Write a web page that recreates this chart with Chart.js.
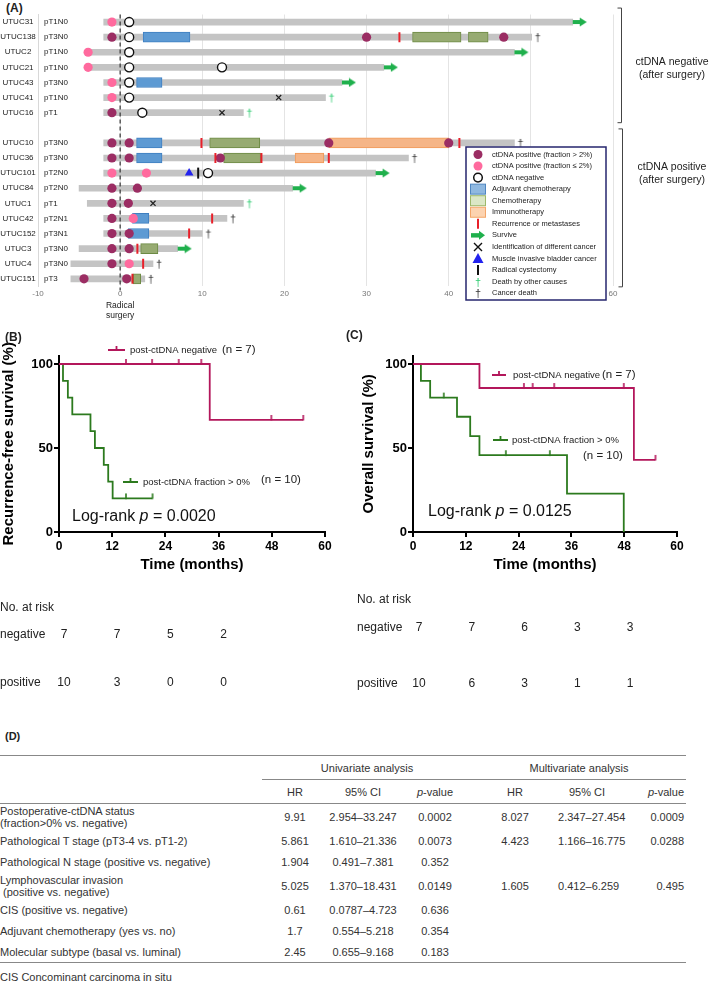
<!DOCTYPE html>
<html lang="en">
<head>
<meta charset="utf-8">
<title>Postoperative ctDNA and outcome</title>
<script src="https://cdn.jsdelivr.net/npm/chart.js@4.4.1/dist/chart.umd.min.js"></script>
<style>
  body { margin: 0; background: #fff; }
  #page { position: relative; width: 709px; height: 993px; overflow: hidden; font-family: "Liberation Sans", Arial, sans-serif; color: #222; }
  #page canvas { position: absolute; }
  .tag { position: absolute; font-size: 12px; font-weight: bold; line-height: 14px; }
  #cox { position: absolute; left: 0; top: 755px; width: 686px; border-collapse: collapse; table-layout: fixed; font-size: 11px; color: #333; }
  #cox td { padding: 0; white-space: nowrap; text-align: center; vertical-align: middle; line-height: 12px; }
  #cox td.name { text-align: left; }
  #cox td.last { text-align: right; padding-right: 2px; }
  #cox tr.head1 td { border-top: 1.5px solid #888; height: 23px; }
  #cox tr.head1 td.group { border-bottom: 1px solid #888; }
  #cox tr.head2 td { height: 23px; border-bottom: 1.5px solid #888; }
  #cox tr.end td { border-bottom: 1.5px solid #888; }
  #note { position: absolute; left: 0; top: 971px; font-size: 11px; line-height: 13px; color: #333; }
</style>
</head>
<body>
<div id="page">
  <div class="tag" style="left:6px; top:1px;">(A)</div>
  <canvas id="swimmer" width="709" height="325" style="left:0; top:0;"></canvas>
  <canvas id="rfs" width="350" height="380" style="left:0; top:320px;"></canvas>
  <canvas id="os" width="359" height="380" style="left:350px; top:320px;"></canvas>
  <div class="tag" style="left:5px; top:330px;">(B)</div>
  <div class="tag" style="left:346px; top:328px;">(C)</div>
  <div class="tag" style="left:5px; top:729px; font-size:11px;">(D)</div>
  <table id="cox"></table>
  <div id="note">CIS Concominant carcinoma in situ</div>
</div>
<script>
// ---- (A) swimmer plot data, months from radical surgery ----
const patients = ['UTUC31', 'UTUC138', 'UTUC2', 'UTUC21', 'UTUC43', 'UTUC41', 'UTUC16', '',
  'UTUC10', 'UTUC36', 'UTUC101', 'UTUC84', 'UTUC1', 'UTUC42', 'UTUC152', 'UTUC3', 'UTUC4', 'UTUC151'];
const stages = ['pT1N0', 'pT3N0', 'pT1N0', 'pT1N0', 'pT3N0', 'pT1N0', 'pT1', '',
  'pT3N0', 'pT3N0', 'pT2N0', 'pT2N0', 'pT1', 'pT2N1', 'pT3N1', 'pT3N0', 'pT3N0', 'pT3'];
const followStart = [-2, -2, -3.9, -3.9, -2, -2, -2, null, -2, -2, -2, -5, -4, -2, -2, -5, -6, -6];
const followEnd = [55.1, 50.1, 48, 32.1, 27, 25, 15, null, 48, 35.1, 31.1, 21, 15, 13, 10, 7, 4, 3];
const outcome = ['alive', 'cancer', 'alive', 'alive', 'alive', 'other', 'other', '',
  'cancer', 'cancer', 'alive', 'alive', 'other', 'cancer', 'cancer', 'alive', 'cancer', 'cancer'];

const ctdnaHigh = [['UTUC138', -1], ['UTUC138', 30], ['UTUC138', 46.7], ['UTUC16', -1],
  ['UTUC10', -1], ['UTUC10', 1.1], ['UTUC10', 25.4], ['UTUC10', 40], ['UTUC36', -1], ['UTUC36', 1.1], ['UTUC36', 12.2],
  ['UTUC84', -1], ['UTUC84', 2.1], ['UTUC1', -1], ['UTUC1', 1], ['UTUC42', -1], ['UTUC152', -1], ['UTUC152', 1.1],
  ['UTUC3', -1], ['UTUC3', 1.1], ['UTUC4', -1], ['UTUC151', -4.4], ['UTUC151', 0.8]];
const ctdnaLow = [['UTUC31', -1], ['UTUC2', -3.9], ['UTUC21', -3.9], ['UTUC43', -1], ['UTUC41', -1],
  ['UTUC101', -1], ['UTUC101', 3.2], ['UTUC42', 1.6], ['UTUC4', 1.1]];
const ctdnaNeg = [['UTUC31', 1.1], ['UTUC138', 1.1], ['UTUC2', 1.1], ['UTUC21', 1.1], ['UTUC21', 12.4],
  ['UTUC43', 1.1], ['UTUC41', 1.1], ['UTUC16', 2.7], ['UTUC101', 10.7]];
const adjuvantChemo = [['UTUC138', 2.8, 8.5], ['UTUC43', 2, 5.1], ['UTUC10', 2, 5.1], ['UTUC36', 2, 5.1],
  ['UTUC42', 1.5, 3.5], ['UTUC152', 1, 3.5]];
const chemo = [['UTUC138', 35.6, 41.5], ['UTUC138', 42.4, 44.8], ['UTUC10', 10.9, 17], ['UTUC36', 12.6, 17.1],
  ['UTUC3', 2.5, 4.6], ['UTUC151', 1.6, 2.5]];
const immuno = [['UTUC10', 25.4, 40], ['UTUC36', 21.3, 24.8]];
const recurrence = [['UTUC138', 34], ['UTUC10', 9.9], ['UTUC10', 41.3], ['UTUC36', 11.6], ['UTUC36', 17.2],
  ['UTUC36', 25.4], ['UTUC42', 11.2], ['UTUC152', 8.4], ['UTUC3', 2.1], ['UTUC4', 2.8], ['UTUC151', 1.5]];
const otherCancer = [['UTUC41', 19.3], ['UTUC16', 12.4], ['UTUC1', 4]];
const bladderMI = [['UTUC101', 8.4]];
const cystectomy = [['UTUC101', 9.5]];

// ---- (B) recurrence-free survival, (C) overall survival ----
const rfsNegTime = [0, 34, 55.1];
const rfsNegSurv = [100, 66.7, 66.7];
const rfsNegCensor = [15.1, 21, 27, 32.1, 47.9, 55.1];
const rfsPosTime = [0, 0.9, 2, 3, 7.1, 8.1, 10.1, 11.1, 12.1, 21.1];
const rfsPosSurv = [100, 90, 80, 70, 60, 50, 40, 30, 20, 20];
const rfsPosCensor = [15.1, 21.1];

const osNegTime = [0, 15.1, 50.2, 55.1];
const osNegSurv = [100, 85.7, 42.9, 42.9];
const osNegCensor = [25.2, 27.2, 32.1, 47.9, 55.1];
const osPosTime = [0, 1.8, 3.9, 10, 13, 15.1, 35, 47.9];
const osPosSurv = [100, 90, 80, 68.6, 57.1, 45.7, 22.9, 0];
const osPosCensor = [7, 21.1, 31.1];

const riskTimes = [0, 12, 24, 36, 48];
const rfsRiskNeg = [7, 7, 5, 2];
const rfsRiskPos = [10, 3, 0, 0];
const osRiskNeg = [7, 7, 6, 3, 3];
const osRiskPos = [10, 6, 3, 1, 1];

// ---- (D) Cox regression ----
const coxFactors = [['Postoperative-ctDNA status', '(fraction>0% vs. negative)'],
  ['Pathological T stage (pT3-4 vs. pT1-2)'], ['Pathological N stage (positive vs. negative)'],
  ['Lymphovascular invasion', '\u00a0(positive vs. negative)'], ['CIS (positive vs. negative)'],
  ['Adjuvant chemotherapy (yes vs. no)'], ['Molecular subtype (basal vs. luminal)']];
const uniHR = ['9.91', '5.861', '1.904', '5.025', '0.61', '1.7', '2.45'];
const uniCI = ['2.954–33.247', '1.610–21.336', '0.491–7.381', '1.370–18.431', '0.0787–4.723', '0.554–5.218', '0.655–9.168'];
const uniP = ['0.0002', '0.0073', '0.352', '0.0149', '0.636', '0.354', '0.183'];
const multiHR = ['8.027', '4.423', '', '1.605', '', '', ''];
const multiCI = ['2.347–27.454', '1.166–16.775', '', '0.412–6.259', '', '', ''];
const multiP = ['0.0009', '0.0288', '', '0.495', '', '', ''];

const FONT = '"Liberation Sans", Arial, sans-serif';
const PURPLE = '#9b2d63', PINK = '#ff6a9e', RED_TICK = '#e8202a', ARROW = '#1fb04c';
const KM_RED = '#b3175b', KM_GREEN = '#2c7a1e';

// small canvases used as point styles
function arrowImage() {
  const c = document.createElement('canvas');
  c.width = 30; c.height = 10;
  const g = c.getContext('2d');
  g.fillStyle = ARROW;
  g.fillRect(15, 3, 8, 4);
  g.beginPath(); g.moveTo(22, 0.5); g.lineTo(29, 5); g.lineTo(22, 9.5); g.closePath(); g.fill();
  return c;
}
function daggerImage(color) {
  const c = document.createElement('canvas');
  c.width = 24; c.height = 16;
  const g = c.getContext('2d');
  g.fillStyle = color; g.font = '11px ' + FONT;
  g.textAlign = 'center'; g.textBaseline = 'middle';
  g.fillText('†', 18, 8.5);
  return c;
}
function censorImage(color) {
  const c = document.createElement('canvas');
  c.width = 4; c.height = 12;
  const g = c.getContext('2d');
  g.fillStyle = color;
  g.fillRect(1.2, 1, 1.6, 5.5);
  return c;
}

const marks = (list, style) => Object.assign({
  type: 'scatter', order: 1,
  data: list.map(([id, t]) => ({ x: t, y: id }))
}, style);
const boxes = (list, fill, edge) => ({
  type: 'bar', order: 5, grouped: false, barThickness: 10,
  backgroundColor: fill, borderColor: edge, borderWidth: 1, borderSkipped: false,
  data: list.map(([id, s, e]) => ({ x: [s, e], y: id }))
});
const ends = (kind) => patients.map((id, i) => outcome[i] === kind ? { x: followEnd[i], y: id } : null).filter(Boolean);

const legendItems = [
  ['dot', PURPLE, 'ctDNA positive (fraction > 2%)'],
  ['dot', PINK, 'ctDNA positive (fraction \u2264 2%)'],
  ['ring', '#111', 'ctDNA negative'],
  ['box', '#8fb8e0', 'Adjuvant chemotherapy', '#4f86c0'],
  ['box', '#dbe7c6', 'Chemotherapy', '#9db86a'],
  ['box', '#fcd3b0', 'Immunotherapy', '#f3a66a'],
  ['tick', RED_TICK, 'Recurrence or metastases'],
  ['arrow', ARROW, 'Survive'],
  ['cross', '#111', 'Identification of different cancer'],
  ['tri', '#2222ee', 'Muscle invasive bladder cancer'],
  ['tick', '#111', 'Radical cystectomy'],
  ['dagger', '#2ecc71', 'Death by other causes'],
  ['dagger', '#333', 'Cancer death']
];

function drawLegendSymbol(ctx, kind, color, x, y, edge) {
  ctx.fillStyle = color; ctx.strokeStyle = color;
  if (kind === 'dot') { ctx.beginPath(); ctx.arc(x, y, 4.5, 0, Math.PI * 2); ctx.fill(); }
  if (kind === 'ring') { ctx.lineWidth = 1.5; ctx.beginPath(); ctx.arc(x, y, 4.3, 0, Math.PI * 2); ctx.stroke(); }
  if (kind === 'box') { ctx.fillRect(x - 7.5, y - 5, 15, 10); ctx.strokeStyle = edge; ctx.lineWidth = 1; ctx.strokeRect(x - 7.5, y - 5, 15, 10); }
  if (kind === 'tick') { ctx.lineWidth = 2; ctx.beginPath(); ctx.moveTo(x, y - 5); ctx.lineTo(x, y + 5); ctx.stroke(); }
  if (kind === 'arrow') {
    ctx.fillRect(x - 7, y - 2.2, 9, 4.4);
    ctx.beginPath(); ctx.moveTo(x + 1, y - 4.5); ctx.lineTo(x + 7, y); ctx.lineTo(x + 1, y + 4.5); ctx.closePath(); ctx.fill();
  }
  if (kind === 'cross') {
    ctx.lineWidth = 1.4; ctx.beginPath();
    ctx.moveTo(x - 4, y - 4); ctx.lineTo(x + 4, y + 4); ctx.moveTo(x + 4, y - 4); ctx.lineTo(x - 4, y + 4); ctx.stroke();
  }
  if (kind === 'tri') { ctx.beginPath(); ctx.moveTo(x, y - 5.5); ctx.lineTo(x + 5.5, y + 4.5); ctx.lineTo(x - 5.5, y + 4.5); ctx.closePath(); ctx.fill(); }
  if (kind === 'dagger') { ctx.font = '11px ' + FONT; ctx.textAlign = 'center'; ctx.textBaseline = 'middle'; ctx.fillText('†', x, y + 1); }
}

const swimmerDecor = {
  id: 'swimmerDecor',
  afterDatasetsDraw(chart) {
    const { ctx, chartArea, scales: { x } } = chart;
    const x0 = x.getPixelForValue(0);
    ctx.save();
    ctx.setLineDash([4, 3]);
    ctx.strokeStyle = '#333'; ctx.lineWidth = 1.2;
    ctx.beginPath(); ctx.moveTo(x0, chartArea.top); ctx.lineTo(x0, chartArea.bottom + 4); ctx.stroke();
    ctx.restore();
  },
  afterDraw(chart) {
    const { ctx, scales: { x, y } } = chart;
    ctx.save();
    ctx.fillStyle = '#222'; ctx.textBaseline = 'middle';
    ctx.font = '8px ' + FONT;
    patients.forEach((id, i) => {
      const py = y.getPixelForValue(i);
      ctx.textAlign = 'center'; ctx.fillText(id, 18, py);
      ctx.textAlign = 'left'; ctx.fillText(stages[i], 44, py);
    });
    // radical surgery caption under 0
    const x0 = x.getPixelForValue(0);
    ctx.textAlign = 'center'; ctx.font = '8.5px ' + FONT;
    ctx.fillText('Radical', x0, 306);
    ctx.fillText('surgery', x0, 316);
    // legend box
    ctx.fillStyle = '#fff';
    ctx.fillRect(466, 147, 140, 153);
    ctx.strokeStyle = '#26266e'; ctx.lineWidth = 1.5;
    ctx.strokeRect(466, 147, 140, 153);
    legendItems.forEach(([kind, color, text, edge], k) => {
      const ly = 154.5 + k * 11.55;
      ctx.save();
      drawLegendSymbol(ctx, kind, color, 478, ly, edge);
      ctx.restore();
      ctx.fillStyle = '#222'; ctx.font = '7.5px ' + FONT;
      ctx.textAlign = 'left'; ctx.textBaseline = 'middle';
      ctx.fillText(text, 492, ly);
    });
    // brackets for ctDNA status after surgery
    ctx.strokeStyle = '#444'; ctx.lineWidth = 1;
    const bracket = (top, bottom, bx) => {
      ctx.beginPath(); ctx.moveTo(bx - 4, top); ctx.lineTo(bx, top); ctx.lineTo(bx, bottom); ctx.lineTo(bx - 4, bottom); ctx.stroke();
    };
    bracket(y.getPixelForValue(0) - 14, y.getPixelForValue(6) + 10, 621.5);
    bracket(y.getPixelForValue(8) - 14, y.getPixelForValue(17) + 8, 622.5);
    ctx.fillStyle = '#222'; ctx.font = '10.5px ' + FONT; ctx.textAlign = 'center';
    ctx.fillText('ctDNA negative', 672, 62);
    ctx.fillText('(after surgery)', 672, 75);
    ctx.fillText('ctDNA positive', 672, 167);
    ctx.fillText('(after surgery)', 672, 180);
    ctx.restore();
  }
};

new Chart('swimmer', {
  type: 'bar',
  data: {
    labels: patients,
    datasets: [
      {
        type: 'bar', order: 10, grouped: false, barThickness: 6,
        backgroundColor: '#c4c4c4', borderWidth: 0,
        data: followStart.map((s, i) => (s === null ? null : [s, followEnd[i]]))
      },
      boxes(adjuvantChemo, '#5d9ad3', '#3f7fc0'),
      boxes(chemo, '#97ab72', '#6d8a44'),
      boxes(immuno, '#f5b587', '#f09a58'),
      marks(recurrence, { pointStyle: 'line', pointRotation: 90, pointRadius: 5, pointBorderColor: RED_TICK, pointBorderWidth: 2 }),
      marks(cystectomy, { pointStyle: 'line', pointRotation: 90, pointRadius: 5.5, pointBorderColor: '#111', pointBorderWidth: 2 }),
      marks(otherCancer, { pointStyle: 'crossRot', pointRadius: 3.6, pointBorderColor: '#222', pointBorderWidth: 1.3 }),
      marks(bladderMI, { pointStyle: 'triangle', pointRadius: 5, pointBackgroundColor: '#2222ee', pointBorderWidth: 0 }),
      marks(ctdnaNeg, { pointStyle: 'circle', pointRadius: 4.5, pointBackgroundColor: '#fff', pointBorderColor: '#111', pointBorderWidth: 1.4 }),
      marks(ctdnaLow, { pointStyle: 'circle', pointRadius: 4.6, pointBackgroundColor: PINK, pointBorderWidth: 0 }),
      marks(ctdnaHigh, { pointStyle: 'circle', pointRadius: 4.6, pointBackgroundColor: PURPLE, pointBorderWidth: 0 }),
      { type: 'scatter', order: 1, data: ends('alive'), pointStyle: arrowImage(), pointRadius: 5 },
      { type: 'scatter', order: 1, data: ends('cancer'), pointStyle: daggerImage('#333'), pointRadius: 5 },
      { type: 'scatter', order: 1, data: ends('other'), pointStyle: daggerImage('#2ecc71'), pointRadius: 5 }
    ]
  },
  options: {
    responsive: false,
    animation: false,
    indexAxis: 'y',
    layout: { padding: { left: 38, right: 96, top: 14.5, bottom: 23 } },
    plugins: { legend: { display: false }, tooltip: { enabled: false } },
    scales: {
      x: {
        type: 'linear', min: -10, max: 60,
        ticks: { stepSize: 10, color: '#777', font: { size: 8, family: FONT }, padding: 3 },
        grid: { color: '#e4e4e4', drawTicks: false },
        border: { display: false }
      },
      y: {
        type: 'category', offset: true,
        ticks: { display: false },
        grid: { display: false, drawTicks: false },
        border: { display: true, color: '#d8d8d8' }
      }
    }
  },
  plugins: [swimmerDecor]
});

// ---- Kaplan-Meier panels ----
const curve = (times, surv) => times.map((t, i) => ({ x: t, y: surv[i] }));
const survAt = (times, surv, t) => {
  let s = surv[0];
  times.forEach((ti, i) => { if (ti <= t) s = surv[i]; });
  return s;
};
const censored = (times, surv, cens) => cens.map(t => ({ x: t, y: survAt(times, surv, t) }));

const kmDecor = {
  id: 'kmDecor',
  afterDraw(chart, args, o) {
    const { ctx, scales: { x } } = chart;
    ctx.save();
    ctx.textBaseline = 'middle'; ctx.textAlign = 'left';
    o.legend.forEach(item => {
      ctx.strokeStyle = item.color; ctx.lineWidth = 1.8;
      ctx.beginPath();
      ctx.moveTo(item.x, item.y); ctx.lineTo(item.x + item.w, item.y);
      ctx.moveTo(item.x + item.w / 2, item.y); ctx.lineTo(item.x + item.w / 2, item.y - 4);
      ctx.stroke();
      ctx.fillStyle = '#222';
      ctx.font = '9.5px ' + FONT; ctx.fillText(item.text, item.tx, item.y);
      ctx.font = '11.5px ' + FONT; ctx.fillText(item.n, item.nx, item.ny);
    });
    // log-rank annotation with italic p
    ctx.fillStyle = '#111';
    let lx = o.logrank.x;
    [['Log-rank ', ''], ['p', 'italic '], [' = ' + o.logrank.p, '']].forEach(([s, st]) => {
      ctx.font = st + '16px ' + FONT;
      ctx.fillText(s, lx, o.logrank.y);
      lx += ctx.measureText(s).width;
    });
    // numbers at risk
    ctx.fillStyle = '#222'; ctx.font = '12px ' + FONT;
    ctx.fillText('No. at risk', o.risk.x, o.risk.y[0]);
    ctx.fillText('negative', o.risk.x, o.risk.y[1]);
    ctx.fillText('positive', o.risk.x, o.risk.y[2]);
    ctx.textAlign = 'center';
    o.risk.neg.forEach((n, i) => ctx.fillText(String(n), x.getPixelForValue(riskTimes[i]) + o.risk.dx, o.risk.y[1]));
    o.risk.pos.forEach((n, i) => ctx.fillText(String(n), x.getPixelForValue(riskTimes[i]) + o.risk.dx, o.risk.y[2]));
    ctx.restore();
  }
};

function survivalChart(canvasId, title, neg, pos, decor, axisWidth, titlePad, rightPad) {
  return new Chart(canvasId, {
    type: 'line',
    data: {
      datasets: [
        { data: curve(neg.t, neg.s), borderColor: KM_RED, borderWidth: 1.8, pointRadius: 0, stepped: 'before', order: 2 },
        { data: curve(pos.t, pos.s), borderColor: KM_GREEN, borderWidth: 1.8, pointRadius: 0, stepped: 'before', order: 2 },
        { type: 'scatter', data: censored(neg.t, neg.s, neg.c), pointStyle: censorImage(KM_RED), pointRadius: 4, order: 1 },
        { type: 'scatter', data: censored(pos.t, pos.s, pos.c), pointStyle: censorImage(KM_GREEN), pointRadius: 4, order: 1 }
      ]
    },
    options: {
      responsive: false,
      animation: false,
      layout: { padding: { left: 0, right: rightPad, top: 35.6, bottom: 126 } },
      plugins: { legend: { display: false }, tooltip: { enabled: false }, kmDecor: decor },
      scales: {
        x: {
          type: 'linear', min: 0, max: 60,
          ticks: { stepSize: 12, color: '#000', font: { size: 12, weight: 'bold', family: FONT }, padding: 2 },
          grid: { drawOnChartArea: false, color: '#000', lineWidth: 2, tickLength: 5 },
          border: { color: '#000', width: 2 },
          title: { display: true, text: 'Time (months)', color: '#000', font: { size: 15, weight: 'bold', family: FONT }, padding: 0 },
          afterFit: s => { s.height = 42; }
        },
        y: {
          type: 'linear', min: 0, max: 105,
          afterBuildTicks: s => { s.ticks = [0, 50, 100].map(v => ({ value: v })); },
          ticks: { color: '#000', font: { size: 13, weight: 'bold', family: FONT }, padding: 1 },
          grid: { drawOnChartArea: false, color: '#000', lineWidth: 2, tickLength: 5 },
          border: { color: '#000', width: 2 },
          title: { display: true, text: title, color: '#000', font: { size: 15, weight: 'bold', family: FONT }, padding: { top: titlePad, bottom: 0 } },
          afterFit: s => { s.width = axisWidth; }
        }
      }
    },
    plugins: [kmDecor]
  });
}

survivalChart('rfs', 'Recurrence-free survival (%)',
  { t: rfsNegTime, s: rfsNegSurv, c: rfsNegCensor },
  { t: rfsPosTime, s: rfsPosSurv, c: rfsPosCensor },
  {
    legend: [
      { color: KM_RED, x: 108, w: 17, y: 30, text: 'post-ctDNA negative', tx: 130, n: '(n = 7)', nx: 222, ny: 30 },
      { color: KM_GREEN, x: 123, w: 15, y: 162, text: 'post-ctDNA fraction > 0%', tx: 143, n: '(n = 10)', nx: 261, ny: 160 }
    ],
    logrank: { x: 72, y: 197, p: '0.0020' },
    risk: { x: 0, y: [288, 315, 363], dx: 5, neg: rfsRiskNeg, pos: rfsRiskPos }
  }, 59, 0, 25);

survivalChart('os', 'Overall survival (%)',
  { t: osNegTime, s: osNegSurv, c: osNegCensor },
  { t: osPosTime, s: osPosSurv, c: osPosCensor },
  {
    legend: [
      { color: KM_RED, x: 142, w: 14, y: 55, text: 'post-ctDNA negative', tx: 163, n: '(n = 7)', nx: 252, ny: 55 },
      { color: KM_GREEN, x: 143, w: 15, y: 120, text: 'post-ctDNA fraction > 0%', tx: 162, n: '(n = 10)', nx: 233, ny: 136 }
    ],
    logrank: { x: 78, y: 192, p: '0.0125' },
    risk: { x: 7, y: [280, 308, 364], dx: 6, neg: osRiskNeg, pos: osRiskPos }
  }, 63, 10, 32);

// ---- (D) table ----
const colWidths = [262, 66, 70, 74, 86, 58, 70];
let html = '<colgroup>' + colWidths.map(w => '<col style="width:' + w + 'px">').join('') + '</colgroup>';
html += '<tr class="head1"><td></td><td class="group" colspan="3">Univariate analysis</td><td class="group" colspan="3">Multivariate analysis</td></tr>';
html += '<tr class="head2"><td></td><td>HR</td><td>95% CI</td><td><i>p</i>-value</td><td>HR</td><td>95% CI</td><td class="last"><i>p</i>-value</td></tr>';
const rowHeights = [27, 21, 21, 27, 21, 21, 21];
coxFactors.forEach((lines, i) => {
  const cls = i === coxFactors.length - 1 ? ' class="end"' : '';
  html += '<tr' + cls + ' style="height:' + rowHeights[i] + 'px">' +
    '<td class="name">' + lines.join('<br>') + '</td>' +
    [uniHR[i], uniCI[i], uniP[i], multiHR[i], multiCI[i]].map(v => '<td>' + v + '</td>').join('') +
    '<td class="last">' + multiP[i] + '</td></tr>';
});
document.getElementById('cox').innerHTML = html;
</script>
</body>
</html>
